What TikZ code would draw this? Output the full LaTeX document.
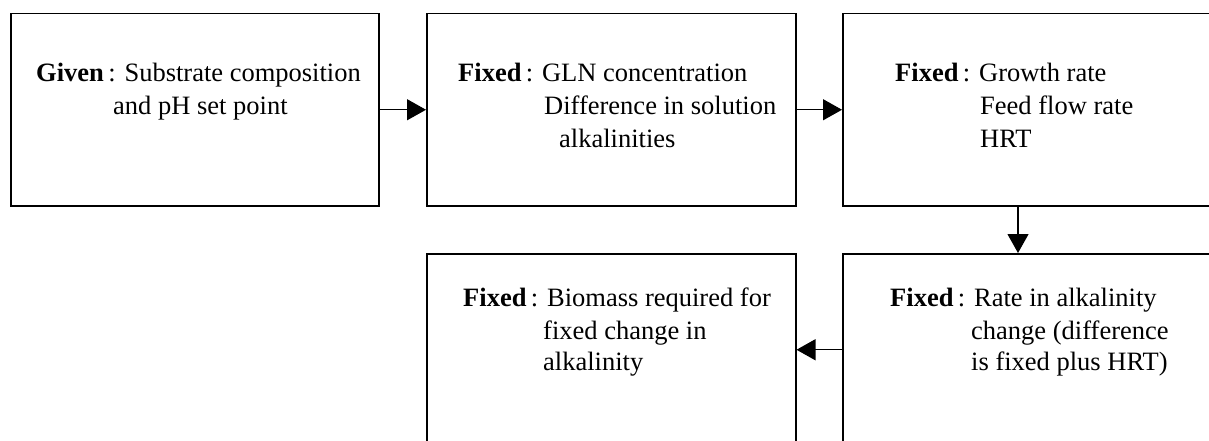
\documentclass[tikz,border=0pt]{standalone}
\usepackage{fontspec}
\setmainfont{Liberation Serif}
\usetikzlibrary{arrows.meta}
\begin{document}
\begin{tikzpicture}[x=1pt,y=-1pt,
  box/.style={draw,line width=1.5pt,minimum width=368pt,minimum height=192pt,inner sep=0pt,anchor=north west},
  txt/.style={anchor=base west,inner sep=0pt,font=\fontsize{26.5}{32}\selectfont},
  arr/.style={line width=1.2pt,-{Triangle[length=19pt,width=21pt]}}]
\useasboundingbox (0,0) rectangle (1209,441);
\clip (0,0) rectangle (1209,441);
\node[box] (b1) at (10,13) {};
\node[box,minimum width=369pt] (b2) at (426,13) {};
\node[box,minimum width=390pt] (b3) at (842,13) {};
\node[box,minimum width=369pt] (b4) at (426,253) {};
\node[box,minimum width=390pt] (b5) at (842,253) {};
\draw[arr] (b1) -- (b2);
\draw[arr] (b2.east) -- (b3.west |- b2.east);
\draw[arr] ([xshift=176pt]b3.south west) -- ([xshift=176pt]b5.north west);
\draw[arr] (b5.west) -- (b4.east);
\node[txt] (t1a) at (36,82) {\textbf{Given}\,: Substrate composition};
\node[txt] (t1b) at (113,115) {and pH set point};
\node[txt] (t2a) at (458,82) {\textbf{Fixed}\,: GLN concentration};
\node[txt] (t2b) at (544,115) {Difference in solution};
\node[txt] (t2c) at (559,147) {alkalinities};
\node[txt] (t3a) at (895,82) {\textbf{Fixed}\,: Growth rate};
\node[txt] (t3b) at (980,115) {Feed flow rate};
\node[txt] (t3c) at (980,147) {HRT};
\node[txt] (t4a) at (463,306) {\textbf{Fixed}\,: Biomass required for};
\node[txt] (t4b) at (543,339) {fixed change in};
\node[txt] (t4c) at (543,370) {alkalinity};
\node[txt] (t5a) at (890,306) {\textbf{Fixed}\,: Rate in alkalinity};
\node[txt] (t5b) at (971,339) {change (difference};
\node[txt] (t5c) at (971,370) {is fixed plus HRT)};
\end{tikzpicture}
\end{document}
